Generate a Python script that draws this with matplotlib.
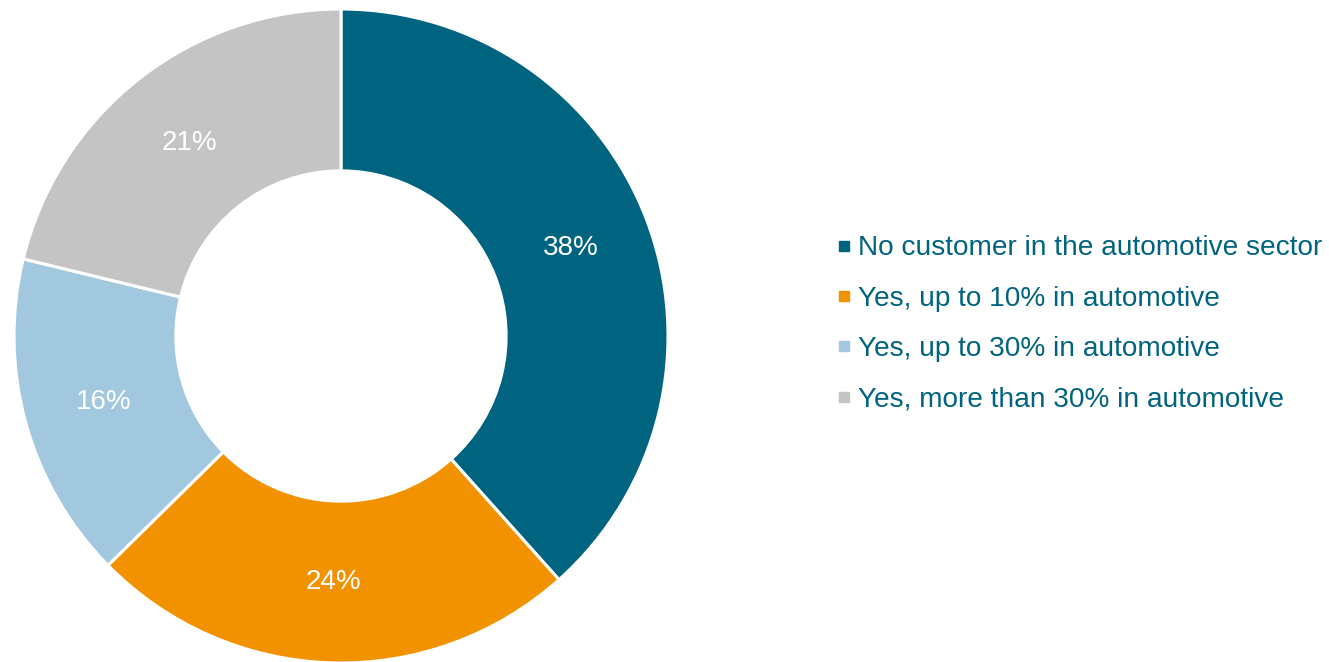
import matplotlib
matplotlib.use("Agg")
import matplotlib.pyplot as plt
from matplotlib.lines import Line2D

plt.rcParams["font.family"] = ["Liberation Sans", "DejaVu Sans"]

categories = [
    "No customer in the automotive sector",
    "Yes, up to 10% in automotive",
    "Yes, up to 30% in automotive",
    "Yes, more than 30% in automotive",
]
shares = [38, 24, 16, 21]
colors = ["#00637F", "#F39200", "#A2C8DF", "#C4C4C4"]
text_color = "#00637F"

fig = plt.figure(figsize=(13.29, 6.62), dpi=100)
W, H = 1329, 662
cx, cy, r = 341, 336, 327
ax = fig.add_axes([(cx - r) / W, (H - cy - r) / H, 2 * r / W, 2 * r / H])

wedges, texts, autotexts = ax.pie(
    shares,
    colors=colors,
    startangle=90,
    counterclock=False,
    radius=1.0,
    autopct=lambda p: f"{p:.0f}%",
    pctdistance=0.752,
    wedgeprops=dict(width=0.495, edgecolor="white", linewidth=2.2),
    textprops=dict(color="white", fontsize=20),
)
for t, v in zip(autotexts, shares):
    t.set_text(f"{v}%")
ax.set_xlim(-1, 1)
ax.set_ylim(-1, 1)
ax.set_aspect("equal")
ax.axis("off")

handles = [
    Line2D([], [], marker="s", linestyle="none", markersize=7.5,
           markerfacecolor=c, markeredgecolor=c)
    for c in colors
]
leg = fig.legend(
    handles, categories,
    loc="center left",
    bbox_to_anchor=(822 / W, (H - 324) / H),
    frameon=False,
    fontsize=20.2,
    handlelength=0.6,
    handletextpad=0.2,
    labelspacing=0.87,
    borderpad=0,
)
for t in leg.get_texts():
    t.set_color(text_color)

fig.savefig("out.png", dpi=100)
